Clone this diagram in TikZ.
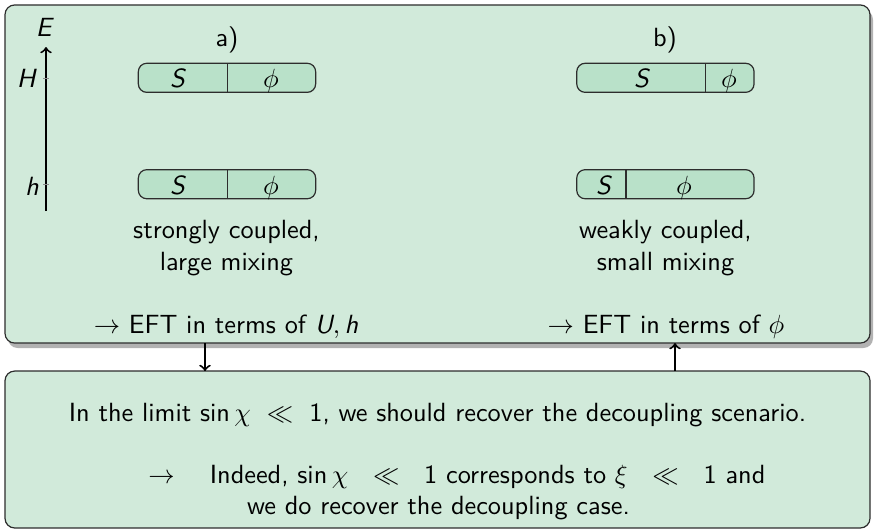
\documentclass[tikz,border=0pt]{standalone}
\usetikzlibrary{arrows}
\definecolor{boxfill}{RGB}{209,234,218}
\definecolor{barfill}{RGB}{185,225,201}
\definecolor{boxdraw}{RGB}{45,45,45}
\definecolor{shadegray}{RGB}{178,178,178}
\newcommand{\msv}[1]{\textsf{\slshape #1}}
\begin{document}
\begin{tikzpicture}[x=0.4162pt, y=-0.4162pt,
  font=\fontsize{10.95}{13.6}\selectfont\sffamily,
  bigbox/.style={draw=boxdraw, fill=boxfill, rounded corners=4pt, inner sep=0pt, outer sep=0pt, line width=0.5pt},
  barbox/.style={draw=boxdraw, fill=barfill, rounded corners=3.5pt, minimum width=73.8pt, minimum height=12.1pt, inner sep=0pt, outer sep=0pt, line width=0.5pt},
  lbl/.style={anchor=base, inner sep=0pt},
  conn/.style={->, line width=0.8pt},
  tick/.style={draw=black!45, line width=0.4pt}]
\useasboundingbox (0,0) rectangle (875,531);
% shadow of the top box
\fill[shadegray, rounded corners=4pt] (8,10) rectangle (873,348);
% boxes
\node[bigbox, minimum width=360pt, minimum height=140.7pt] (topbox) at (437.5,174) {};
\node[bigbox, minimum width=360pt, minimum height=65.3pt] (botbox) at (437.5,449.5) {};
% energy axis
\coordinate (axlo) at (46,211);
\coordinate (axhi) at (46,47);
\draw[conn] (axlo) -- (axhi);
\coordinate (tH1) at (43,78); \coordinate (tH2) at (49,78);
\coordinate (th1) at (43,184); \coordinate (th2) at (49,184);
\draw[tick] (tH1) -- (tH2);
\draw[tick] (th1) -- (th2);
\node[lbl] (lE) at (45,36) {\msv{E}};
\node[lbl] (lH) at (27,87) {\msv{H}};
\node[lbl] (lh) at (32,195) {\msv{h}};
% titles
\node[lbl] (la) at (227,46.5) {a)};
\node[lbl] (lb) at (665,46.5) {b)};
% bars
\node[barbox] (aH) at (227,77.8) {};
\node[barbox] (ah) at (227,184.2) {};
\node[barbox] (bH) at (665.4,77.8) {};
\node[barbox] (bh) at (665.4,184.2) {};
\coordinate (dvA) at (227.3,0);
\coordinate (dvB1) at (705.7,0);
\coordinate (dvB2) at (626,0);
\draw[line width=0.5pt, boxdraw] (aH.north -| dvA) -- (aH.south -| dvA);
\draw[line width=0.5pt, boxdraw] (ah.north -| dvA) -- (ah.south -| dvA);
\draw[line width=0.5pt, boxdraw] (bH.north -| dvB1) -- (bH.south -| dvB1);
\draw[line width=0.5pt, boxdraw] (bh.north -| dvB2) -- (bh.south -| dvB2);
\node[lbl] (aHS) at (178,87) {\msv{S}};
\node[lbl] (aHp) at (271,87) {$\phi$};
\node[lbl] (ahS) at (178,194) {\msv{S}};
\node[lbl] (ahp) at (271,194) {$\phi$};
\node[lbl] (bHS) at (642,87) {\msv{S}};
\node[lbl] (bHp) at (729,87) {$\phi$};
\node[lbl] (bhS) at (604,194) {\msv{S}};
\node[lbl] (bhp) at (684,194) {$\phi$};
% descriptions
\node[lbl] (sa1) at (226.5,238) {strongly coupled,};
\node[lbl] (sa2) at (226.5,270) {large mixing};
\node[lbl] (sb1) at (665.5,238) {weakly coupled,};
\node[lbl] (sb2) at (665.5,270) {small mixing};
\node[lbl] (ea) at (226,333) {$\rightarrow$ EFT in terms of $\msv{U},\msv{h}$};
\node[lbl] (eb) at (666,333) {$\rightarrow$ EFT in terms of $\phi$};
% connectors
\coordinate (xA) at (205,0);
\coordinate (xB) at (675,0);
\draw[conn] (topbox.south -| xA) -- (botbox.north -| xA);
\draw[conn] (botbox.north -| xB) -- (topbox.south -| xB);
% bottom text
\node[lbl] (t1) at (437.5,421) {In the limit $\textsf{sin}\,\chi\ \ll\ \textsf{1}$, we should recover the decoupling scenario.};
\node[lbl, anchor=base west] (t2) at (148,483) {$\rightarrow$ \quad Indeed, $\textsf{sin}\,\chi\ \ \ll\ \ \textsf{1}$ corresponds to $\xi\ \ \ll\ \ \textsf{1}$ and};
\node[lbl] (t3) at (438.5,514) {we do recover the decoupling case.};
\end{tikzpicture}
\end{document}
